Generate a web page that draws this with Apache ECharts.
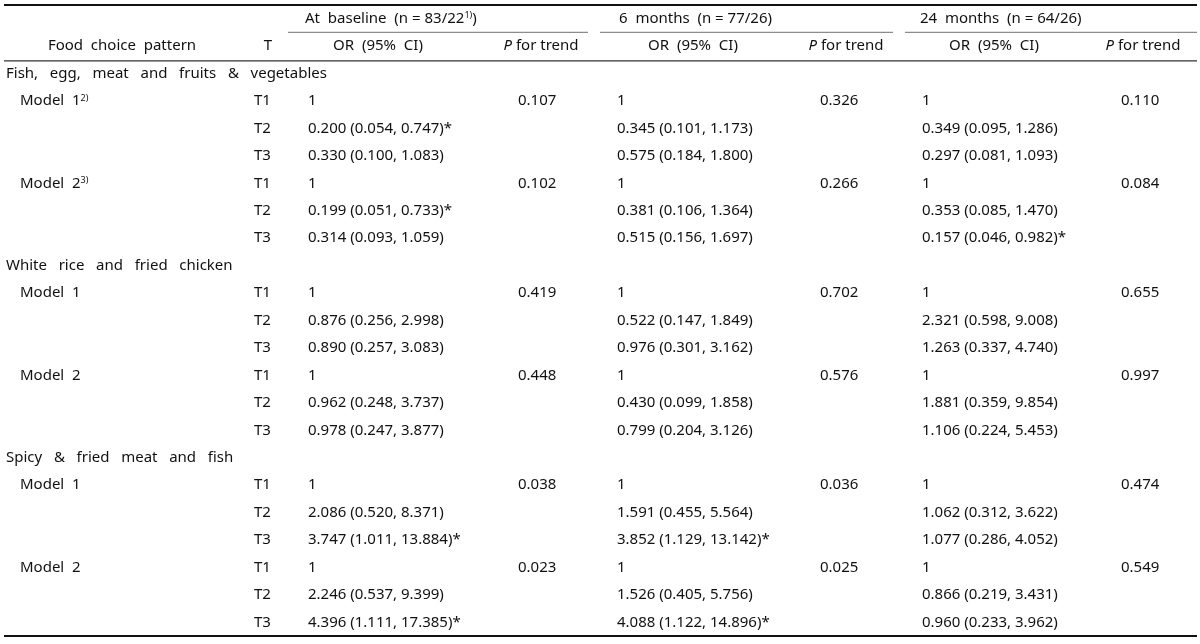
<!DOCTYPE html>
<html>
<head>
<meta charset="utf-8">
<script src="https://cdn.jsdelivr.net/npm/echarts@6/dist/echarts.min.js"></script>
<style>html,body{margin:0;padding:0;background:#fff;}#main{width:1200px;height:644px;}</style>
</head>
<body>
<div id="main"></div>
<script>
// ---------------- DATA ----------------
const patterns = ['Fish, egg, meat and fruits & vegetables', 'White rice and fried chicken', 'Spicy & fried meat and fish'];
const models = ['Model 1', 'Model 2'];
const modelNotes = [['2)', '3)'], ['', ''], ['', '']];
const tertiles = ['T1', 'T2', 'T3'];
const periods = ['At baseline', '6 months', '24 months'];
const periodN = ['83/22', '77/26', '64/26'];
const periodNote = ['1)', '', ''];

// OR, lower CI, upper CI per period; order: pattern > model > tertile (T1 is reference = 1)
const orBaseline = [1, 0.200, 0.330, 1, 0.199, 0.314, 1, 0.876, 0.890, 1, 0.962, 0.978, 1, 2.086, 3.747, 1, 2.246, 4.396];
const loBaseline = [null, 0.054, 0.100, null, 0.051, 0.093, null, 0.256, 0.257, null, 0.248, 0.247, null, 0.520, 1.011, null, 0.537, 1.111];
const hiBaseline = [null, 0.747, 1.083, null, 0.733, 1.059, null, 2.998, 3.083, null, 3.737, 3.877, null, 8.371, 13.884, null, 9.399, 17.385];
const pBaseline = [0.107, 0.102, 0.419, 0.448, 0.038, 0.023];

const or6m = [1, 0.345, 0.575, 1, 0.381, 0.515, 1, 0.522, 0.976, 1, 0.430, 0.799, 1, 1.591, 3.852, 1, 1.526, 4.088];
const lo6m = [null, 0.101, 0.184, null, 0.106, 0.156, null, 0.147, 0.301, null, 0.099, 0.204, null, 0.455, 1.129, null, 0.405, 1.122];
const hi6m = [null, 1.173, 1.800, null, 1.364, 1.697, null, 1.849, 3.162, null, 1.858, 3.126, null, 5.564, 13.142, null, 5.756, 14.896];
const p6m = [0.326, 0.266, 0.702, 0.576, 0.036, 0.025];

const or24m = [1, 0.349, 0.297, 1, 0.353, 0.157, 1, 2.321, 1.263, 1, 1.881, 1.106, 1, 1.062, 1.077, 1, 0.866, 0.960];
const lo24m = [null, 0.095, 0.081, null, 0.085, 0.046, null, 0.598, 0.337, null, 0.359, 0.224, null, 0.312, 0.286, null, 0.219, 0.233];
const hi24m = [null, 1.286, 1.093, null, 1.470, 0.982, null, 9.008, 4.740, null, 9.854, 5.453, null, 3.622, 4.052, null, 3.431, 3.962];
const p24m = [0.110, 0.084, 0.655, 0.997, 0.474, 0.549];

// ---------------- LAYOUT ----------------
const FONT = '"Noto Sans", sans-serif';
const FS = 15;
const INK = '#111';
const colT = 254, colOR = [308, 617, 922], colP = [518, 820, 1121];
const hdrOR = [378, 693, 994], hdrP = [541, 846, 1143], hdrT = 268, hdrFood = 122;
const grpHdr = [305, 619, 920];
const segs = [[288, 588], [600, 893], [905, 1197]];
const tableL = 4, tableR = 1197;
const wide = s => s.split(' ').join('   ');   // typeset word spacing of the original

const ORs = [orBaseline, or6m, or24m], LOs = [loBaseline, lo6m, lo24m], HIs = [hiBaseline, hi6m, hi24m], Ps = [pBaseline, p6m, p24m];

const rowKeys = ['h1', 'h2'];
const cells = []; // [x, rowKey, text, align]
function fmtOR(o, l, h) {
  if (l == null) return String(o);
  const star = (h < 1 || l > 1) ? '*' : '';
  return o.toFixed(3) + ' (' + l.toFixed(3) + ', ' + h.toFixed(3) + ')' + star;
}
periods.forEach((p, i) => {
  const note = periodNote[i] ? '{sup|' + periodNote[i] + '}' : '';
  cells.push([grpHdr[i], 'h1', p.replace(' ', '  ') + '  (n = ' + periodN[i] + note + ')', 'left']);
});
cells.push([hdrFood, 'h2', 'Food  choice  pattern', 'center']);
cells.push([hdrT, 'h2', 'T', 'center']);
for (let i = 0; i < 3; i++) {
  cells.push([hdrOR[i], 'h2', 'OR  (95%  CI)', 'center']);
  cells.push([hdrP[i], 'h2', '{it|P} for trend', 'center']);
}
let k = 0;
patterns.forEach((pat, pi) => {
  const gk = 'g' + pi;
  rowKeys.push(gk);
  cells.push([tableL + 2, gk, wide(pat), 'left']);
  models.forEach((m, mi) => {
    tertiles.forEach((t, ti) => {
      const rk = 'r' + pi + '_' + mi + '_' + ti;
      rowKeys.push(rk);
      if (ti === 0) {
        const note = modelNotes[pi][mi] ? '{sup|' + modelNotes[pi][mi] + '}' : '';
        cells.push([20, rk, m.replace(' ', '  ') + note, 'left']);
      }
      cells.push([colT, rk, t, 'left']);
      for (let q = 0; q < 3; q++) {
        cells.push([colOR[q], rk, fmtOR(ORs[q][k], LOs[q][k], HIs[q][k]), 'left']);
        if (ti === 0) cells.push([colP[q], rk, Ps[q][pi * 2 + mi].toFixed(3), 'left']);
      }
      k++;
    });
  });
});

const rules = [
  // [x1, x2, rowKey, offset in bands from row centre, width, colour, extra px]
  [tableL, tableR, 'h1', -0.5, 2, '#111', 0],
  [segs[0][0], segs[0][1], 'h1', 0.5, 1.2, '#8c8c8c', 0],
  [segs[1][0], segs[1][1], 'h1', 0.5, 1.2, '#8c8c8c', 0],
  [segs[2][0], segs[2][1], 'h1', 0.5, 1.2, '#8c8c8c', 0],
  [tableL, tableR, 'h2', 0.5, 1.2, '#333', 1],
  [tableL, tableR, null, 0.5, 2.2, '#111', 0]
];

const chart = echarts.init(document.getElementById('main'), null, {renderer: 'canvas'});
const rich = {
  sup: {fontSize: 9, verticalAlign: 'top', fontFamily: FONT, color: INK, lineHeight: 14},
  it: {fontStyle: 'italic', fontSize: FS, fontFamily: FONT, color: INK}
};

chart.setOption({
  animation: false,
  grid: {left: 0, right: 0, top: 5, bottom: 8},
  xAxis: {type: 'value', min: 0, max: 1200, show: false},
  yAxis: {type: 'category', data: rowKeys, inverse: true, show: false},
  series: [
    {
      type: 'custom',
      data: cells.map(c => [c[0], c[1]]),
      renderItem: function (params, api) {
        const c = cells[params.dataIndex];
        const pt = api.coord([c[0], c[1]]);
        return {
          type: 'text',
          x: pt[0], y: pt[1],
          style: {
            text: c[2], align: c[3], verticalAlign: 'middle',
            font: FS + 'px ' + FONT, fill: INK, rich: rich
          }
        };
      }
    },
    {
      type: 'custom',
      data: rules.map(r => [r[0], r[2] || rowKeys[rowKeys.length - 1]]),
      renderItem: function (params, api) {
        const it = rules[params.dataIndex];
        const rk = it[2] || rowKeys[rowKeys.length - 1];
        const a = api.coord([it[0], rk]);
        const b = api.coord([it[1], rk]);
        const band = api.size([0, 1])[1];
        const y = a[1] + it[3] * band + it[6];
        return {type: 'line', shape: {x1: a[0], y1: y, x2: b[0], y2: y}, style: {stroke: it[5], lineWidth: it[4]}};
      }
    }
  ]
});
</script>
</body>
</html>
